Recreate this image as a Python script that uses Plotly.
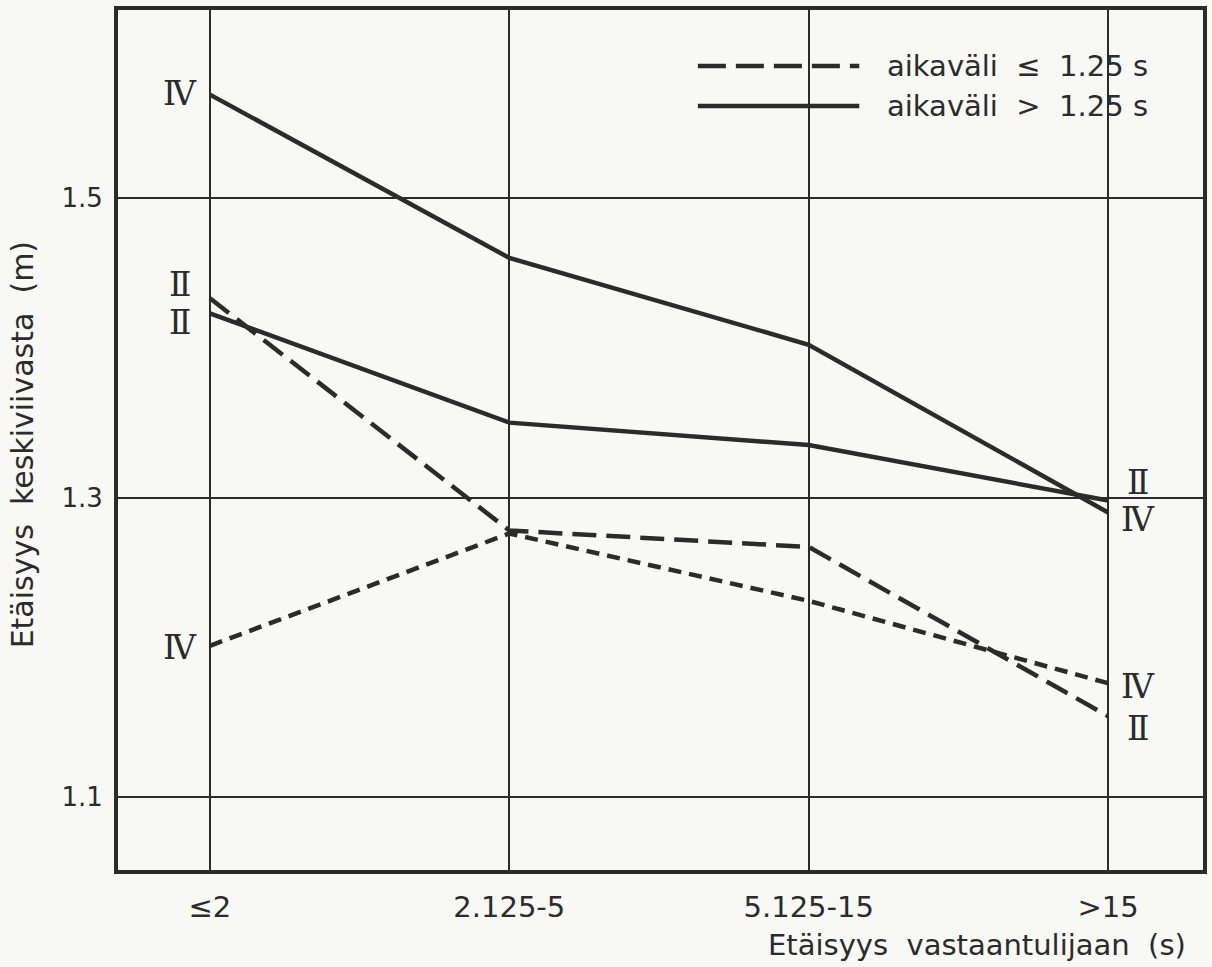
import plotly.graph_objects as go

# ---- data ----
categories = ["≤2", "2.125-5", "5.125-15", ">15"]
x_pos = [0, 1, 2, 3]
solid_IV = [1.569, 1.460, 1.402, 1.290]
solid_II = [1.423, 1.350, 1.335, 1.298]
dashed_II = [1.433, 1.278, 1.267, 1.154]
dashed_IV = [1.201, 1.276, 1.231, 1.176]
y_ticks = [1.1, 1.3, 1.5]
y_ticklabels = ["1.1", "1.3", "1.5"]

# label positions (roman numerals)
left_labels = [("Ⅳ", 1.570), ("Ⅱ", 1.442), ("Ⅱ", 1.417), ("Ⅳ", 1.200)]
right_labels = [("Ⅱ", 1.310), ("Ⅳ", 1.285), ("Ⅳ", 1.174), ("Ⅱ", 1.146)]

INK = "#2b2b2b"
BG = "#f8f8f5"
SANS = "DejaVu Sans"
SERIF = "DejaVu Serif"

W, H = 1212, 967
L, R, T, B = 118, 5, 10, 97

fig = go.Figure()

fig.add_trace(go.Scatter(x=x_pos, y=solid_IV, mode="lines",
                         line=dict(color=INK, width=4.5), showlegend=False))
fig.add_trace(go.Scatter(x=x_pos, y=solid_II, mode="lines",
                         line=dict(color=INK, width=4.5), showlegend=False))
fig.add_trace(go.Scatter(x=x_pos, y=dashed_II, mode="lines",
                         line=dict(color=INK, width=4.5, dash="24px,10px"), showlegend=False))
fig.add_trace(go.Scatter(x=x_pos, y=dashed_IV, mode="lines",
                         line=dict(color=INK, width=4.5, dash="13px,8px"), showlegend=False))

annotations = []
for txt, yv in left_labels:
    annotations.append(dict(x=-0.1, y=yv, xref="x", yref="y", text=txt, showarrow=False,
                            font=dict(family=SERIF, size=33, color=INK)))
for txt, yv in right_labels:
    annotations.append(dict(x=3.1, y=yv, xref="x", yref="y", text=txt, showarrow=False,
                            font=dict(family=SERIF, size=33, color=INK)))


def px2paper_x(px):
    return (px - L) / (W - L - R)


def px2paper_y(py):
    return (H - B - py) / (H - T - B)


# legend text
annotations.append(dict(x=px2paper_x(888), y=px2paper_y(66), xref="paper", yref="paper",
                        xanchor="left", yanchor="middle", showarrow=False,
                        text="aikaväli  ≤  1.25 s", font=dict(family=SANS, size=29, color=INK)))
annotations.append(dict(x=px2paper_x(888), y=px2paper_y(106), xref="paper", yref="paper",
                        xanchor="left", yanchor="middle", showarrow=False,
                        text="aikaväli  >  1.25 s", font=dict(family=SANS, size=29, color=INK)))
# axis titles
annotations.append(dict(x=px2paper_x(1192), y=px2paper_y(945), xref="paper", yref="paper",
                        xanchor="right", yanchor="middle", showarrow=False,
                        text="Etäisyys  vastaantulijaan  (s)",
                        font=dict(family=SANS, size=29, color=INK)))
annotations.append(dict(x=px2paper_x(22), y=px2paper_y(445), xref="paper", yref="paper",
                        xanchor="center", yanchor="middle", showarrow=False, textangle=-90,
                        text="Etäisyys  keskiviivasta  (m)",
                        font=dict(family=SANS, size=30, color=INK)))

shapes = [
    dict(type="rect", xref="paper", yref="paper", layer="between",
         x0=px2paper_x(690), x1=px2paper_x(1185), y0=px2paper_y(48), y1=px2paper_y(146),
         fillcolor=BG, line=dict(width=0)),
    dict(type="line", xref="paper", yref="paper",
         x0=px2paper_x(700), x1=px2paper_x(862), y0=px2paper_y(66), y1=px2paper_y(66),
         line=dict(color=INK, width=4.5, dash="28px,10px")),
    dict(type="line", xref="paper", yref="paper",
         x0=px2paper_x(700), x1=px2paper_x(862), y0=px2paper_y(106), y1=px2paper_y(106),
         line=dict(color=INK, width=4.5)),
]

fig.update_layout(
    width=W, height=H,
    margin=dict(l=L, r=R, t=T, b=B),
    paper_bgcolor=BG, plot_bgcolor=BG,
    annotations=annotations, shapes=shapes,
    showlegend=False,
    xaxis=dict(range=[-0.307, 3.317], tickvals=x_pos, ticktext=categories,
               showgrid=True, gridcolor=INK, gridwidth=2, zeroline=False,
               showline=True, linecolor=INK, linewidth=4, mirror=True,
               ticks="", ticklabelstandoff=8,
               tickfont=dict(family=SANS, size=29, color=INK)),
    yaxis=dict(range=[1.0513, 1.6255], tickvals=y_ticks, ticktext=y_ticklabels,
               showgrid=True, gridcolor=INK, gridwidth=2, zeroline=False,
               showline=True, linecolor=INK, linewidth=4, mirror=True,
               ticks="", ticklabelstandoff=6,
               tickfont=dict(family=SANS, size=26, color=INK)),
)

fig.write_html("out.html")
